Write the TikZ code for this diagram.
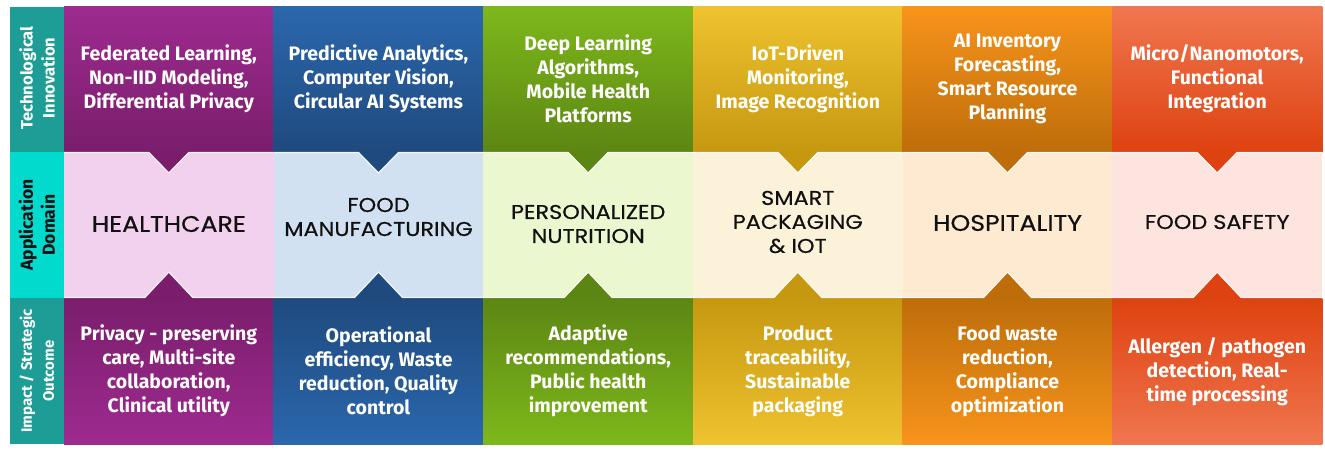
\documentclass[tikz,border=0pt]{standalone}
\usepackage{fontspec}
\newfontfamily\cellfont{Fira Sans}
\newfontfamily\domfont{Poppins}[FakeStretch=1.12, FakeBold=0.5]
\definecolor{c1T}{HTML}{9E2A90}\definecolor{c1D}{HTML}{7A1E6C}\definecolor{c1M}{HTML}{F2D1EE}
\definecolor{c2T}{HTML}{2B67AD}\definecolor{c2D}{HTML}{1F4A7E}\definecolor{c2M}{HTML}{D1E1F2}
\definecolor{c3T}{HTML}{7DB81B}\definecolor{c3D}{HTML}{5C8613}\definecolor{c3M}{HTML}{EBF7CF}
\definecolor{c4T}{HTML}{EFC230}\definecolor{c4D}{HTML}{C59810}\definecolor{c4M}{HTML}{FCF2D9}
\definecolor{c5T}{HTML}{F7941B}\definecolor{c5D}{HTML}{BE6D0A}\definecolor{c5M}{HTML}{FDEAD1}
\definecolor{c6T}{HTML}{F0764F}\definecolor{c6D}{HTML}{DE4210}\definecolor{c6M}{HTML}{FDE4DE}
\definecolor{tealdark}{HTML}{1D9D96}
\definecolor{tealbright}{HTML}{02DACE}
\definecolor{domink}{HTML}{111111}
\tikzset{
  celltext/.style={text=white, font=\cellfont\bfseries\fontsize{19.5}{24}\selectfont, align=center, inner sep=0pt},
  domtext/.style={text=domink, font=\domfont\fontsize{20}{24}\selectfont, align=center, inner sep=0pt},
  domtextbig/.style={domtext, font=\domfont\fontsize{22.5}{24}\selectfont},
  sidetext/.style={rotate=90, font=\cellfont\bfseries\fontsize{16.5}{22}\selectfont, align=center, inner sep=0pt},
  rimline/.style={draw=white, line width=1.1pt, opacity=0.75},
}
\begin{document}
\begin{tikzpicture}[x=1pt,y=1pt]
\useasboundingbox (0,0) rectangle (1325,451);
\fill[white] (0,0) rectangle (1325,451);
% left strip
\fill[tealdark] (10,444) rectangle (64,299);
\fill[tealbright] (10,299) rectangle (64,153);
\fill[tealdark] (10,153) rectangle (64,7);
% columns
\foreach \i in {1,...,6} {
  \pgfmathsetmacro\L{64+209.667*(\i-1)}
  \pgfmathsetmacro\R{64+209.667*\i+0.4}
  \pgfmathsetmacro\C{64+209.667*(\i-0.5)}
  \shade[top color=c\i T, bottom color=c\i D] (\L,444) rectangle (\R,299);
  \fill[c\i M] (\L,299) rectangle (\R,153);
  \shade[top color=c\i D, bottom color=c\i T] (\L,153) rectangle (\R,7);
  \fill[c\i D] (\C-20,299.5) -- (\C+20,299.5) -- (\C,279) -- cycle;
  \fill[c\i D] (\C-24,152.5) -- (\C+24,152.5) -- (\C,178) -- cycle;
  \draw[rimline] (\L,298.5) -- (\C-20,298.5) -- (\C,278) -- (\C+20,298.5) -- (\R,298.5);
  \draw[rimline] (\L,153.5) -- (\C-24,153.5) -- (\C,179) -- (\C+24,153.5) -- (\R,153.5);
}
% side labels
\node[sidetext, text=white] (sTop) at (37,373) {Technological\\Innovation};
\node[sidetext, text=domink, font=\cellfont\bfseries\fontsize{17.5}{22}\selectfont] (sMid) at (37,226) {Application\\Domain};
\node[sidetext, text=white, font=\cellfont\bfseries\fontsize{15}{22}\selectfont] (sBot) at (37,80) {Impact / Strategic\\Outcome};
% top row
\node[celltext] (t1) at (168.8,372) {Federated Learning,\\Non-IID Modeling,\\Differential Privacy};
\node[celltext] (t2) at (378.5,372) {Predictive Analytics,\\Computer Vision,\\Circular AI Systems};
\node[celltext] (t3) at (588.2,372) {Deep Learning\\Algorithms,\\Mobile Health\\Platforms};
\node[celltext] (t4) at (797.8,372) {IoT-Driven\\Monitoring,\\Image Recognition};
\node[celltext] (t5) at (1007.5,372) {AI Inventory\\Forecasting,\\Smart Resource\\Planning};
\node[celltext] (t6) at (1217.2,372) {Micro/Nanomotors,\\Functional\\Integration};
% middle row
\node[domtextbig] (m1) at (168.8,227) {HEALTHCARE};
\node[domtext] (m2) at (378.5,234) {FOOD\\MANUFACTURING};
\node[domtext] (m3) at (588.2,227) {PERSONALIZED\\NUTRITION};
\node[domtext] (m4) at (797.8,229) {SMART\\PACKAGING\\\& IOT};
\node[domtextbig] (m5) at (1007.5,228) {HOSPITALITY};
\node[domtext] (m6) at (1217.2,229) {FOOD SAFETY};
% bottom row
\node[celltext] (b1) at (168.8,80) {Privacy - preserving\\care, Multi-site\\collaboration,\\Clinical utility};
\node[celltext] (b2) at (378.5,80) {Operational\\efficiency, Waste\\reduction, Quality\\control};
\node[celltext] (b3) at (588.2,80) {Adaptive\\recommendations,\\Public health\\improvement};
\node[celltext] (b4) at (797.8,80) {Product\\traceability,\\Sustainable\\packaging};
\node[celltext] (b5) at (1007.5,80) {Food waste\\reduction,\\Compliance\\optimization};
\node[celltext] (b6) at (1217.2,79) {Allergen / pathogen\\detection, Real-\\time processing};
\end{tikzpicture}
\end{document}
